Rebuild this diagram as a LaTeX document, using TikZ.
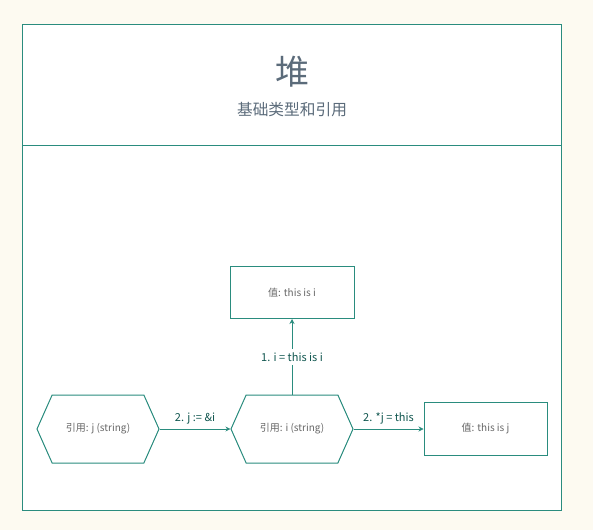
\documentclass[tikz,border=0pt]{standalone}
\usepackage{fontspec}
\setmainfont{Noto Sans CJK SC}
\usetikzlibrary{shapes.symbols,arrows.meta}
\definecolor{bgcream}{HTML}{FDFAF1}
\definecolor{tealline}{HTML}{2A8C7E}
\definecolor{titlegray}{HTML}{5B6B7A}
\definecolor{labelteal}{HTML}{10564F}
\definecolor{nodegray}{HTML}{666666}
\begin{document}
\begin{tikzpicture}
[x=1pt,y=1pt,
refhex/.style={draw=tealline,line width=1pt,fill=white,signal,signal to=east and west,
  signal pointer angle=132,minimum width=122pt,minimum height=68pt,inner sep=0pt,
  text=nodegray,font=\fontsize{10}{12}\selectfont},
valbox/.style={draw=tealline,line width=1pt,fill=white,rectangle,minimum width=124pt,
  minimum height=52pt,text=nodegray,font=\fontsize{10}{12}\selectfont},
link/.style={draw=tealline,line width=0.7pt,-{Stealth[length=5pt,width=5pt]}},
linklabel/.style={text=labelteal,font=\fontsize{11}{12}\selectfont}]
\fill[bgcream] (0,0) rectangle (593,530);
\useasboundingbox (0,0) rectangle (593,530);
% frame
\draw[tealline,line width=1pt,fill=white] (22,20) rectangle (561,505);
\draw[tealline,line width=1pt] (22,384) -- (561,384);
\node[text=titlegray,font=\fontsize{34}{36}\selectfont] (title) at (292,458) {堆};
\node[text=titlegray,font=\fontsize{15.7}{17}\selectfont] (subtitle) at (292,420) {基础类型和引用};
% nodes
\node[refhex] (refj) at (98,101) {引用: j (string)};
\node[refhex] (refi) at (292,101) {引用: i (string)};
\node[valbox] (vali) at (292,237.5) {值: this is i};
\node[valbox,minimum width=123pt,minimum height=53pt] (valj) at (485.5,101) {值: this is j};
% links
\draw[link] (refi.north) -- node[midway,fill=white,linklabel]{1. i = this is i} (vali.south);
\draw[link] (refj.east) -- node[above=1pt,linklabel]{2. j := \&i} (refi.west);
\draw[link] (refi.east) -- node[above=1pt,linklabel]{2. *j = this} (valj.west);
\end{tikzpicture}
\end{document}
